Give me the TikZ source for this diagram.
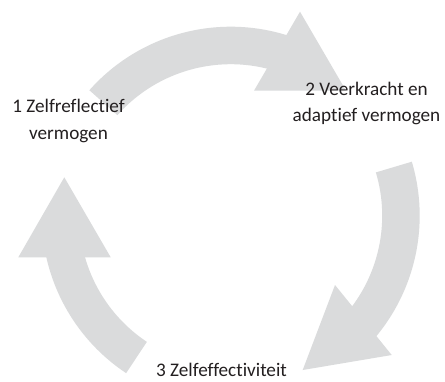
\documentclass[tikz,border=0pt]{standalone}
\usepackage{fontspec}
\setmainfont{Carlito}[Ligatures={NoCommon,NoRare}]
\usetikzlibrary{calc}
\definecolor{arrowgray}{RGB}{218,219,220}
\definecolor{labelink}{RGB}{35,31,32}
\tikzset{
  arrowfill/.style={fill=arrowgray},
  lbl/.style={inner sep=0pt, align=center, text=labelink,
    font=\fontsize{19.2bp}{26.5bp}\selectfont}
}
\begin{document}
\begin{tikzpicture}[x=1bp,y=1bp]
\useasboundingbox[fill=white] (0,0) rectangle (445,381);
\coordinate (c) at (230.7,165.3);
\def\Ro{189}
\def\Ri{151.5}
% arrow 1 (top)
\fill[arrowfill] ([shift={(138.4:\Ro)}]c) arc[start angle=138.4, end angle=72, radius=\Ro]
  -- ([shift={(72:\Ri)}]c) arc[start angle=72, end angle=138.4, radius=\Ri] -- cycle;
\coordinate (h1t) at (300,369.3);
\coordinate (h1a) at (254,290.3);
\coordinate (h1b) at (346,290.3);
\fill[arrowfill] (h1a) -- (h1t) -- (h1b) -- cycle;
% arrow 2 (right)
\fill[arrowfill] ([shift={(16.6:\Ro)}]c) arc[start angle=16.6, end angle=-41, radius=\Ro]
  -- ([shift={(-41:\Ri)}]c) arc[start angle=-41, end angle=16.6, radius=\Ri] -- cycle;
\coordinate (h2t) at (302.7,11);
\coordinate (h2a) at (335,96);
\coordinate (h2b) at (391.7,26);
\fill[arrowfill] (h2a) -- (h2t) -- (h2b) -- cycle;
% arrow 3 (left)
\fill[arrowfill] ([shift={(236.4:\Ro)}]c) arc[start angle=236.4, end angle=184, radius=\Ro]
  -- ([shift={(184:\Ri)}]c) arc[start angle=184, end angle=236.4, radius=\Ri] -- cycle;
\coordinate (h3t) at (64.3,203.7);
\coordinate (h3a) at (18.3,123.7);
\coordinate (h3b) at (110.7,123.7);
\fill[arrowfill] (h3a) -- (h3t) -- (h3b) -- cycle;
% labels
\node[lbl, anchor=base] (l1) at (68.5,241.7) {1 Zelfreflectief\\vermogen};
\node[lbl, anchor=base] (l2) at (366.5,259.3) {2 Veerkracht en\\adaptief vermogen};
\node[lbl, anchor=base] (l3) at (221.5,5) {3 Zelfeffectiviteit};
\end{tikzpicture}
\end{document}
